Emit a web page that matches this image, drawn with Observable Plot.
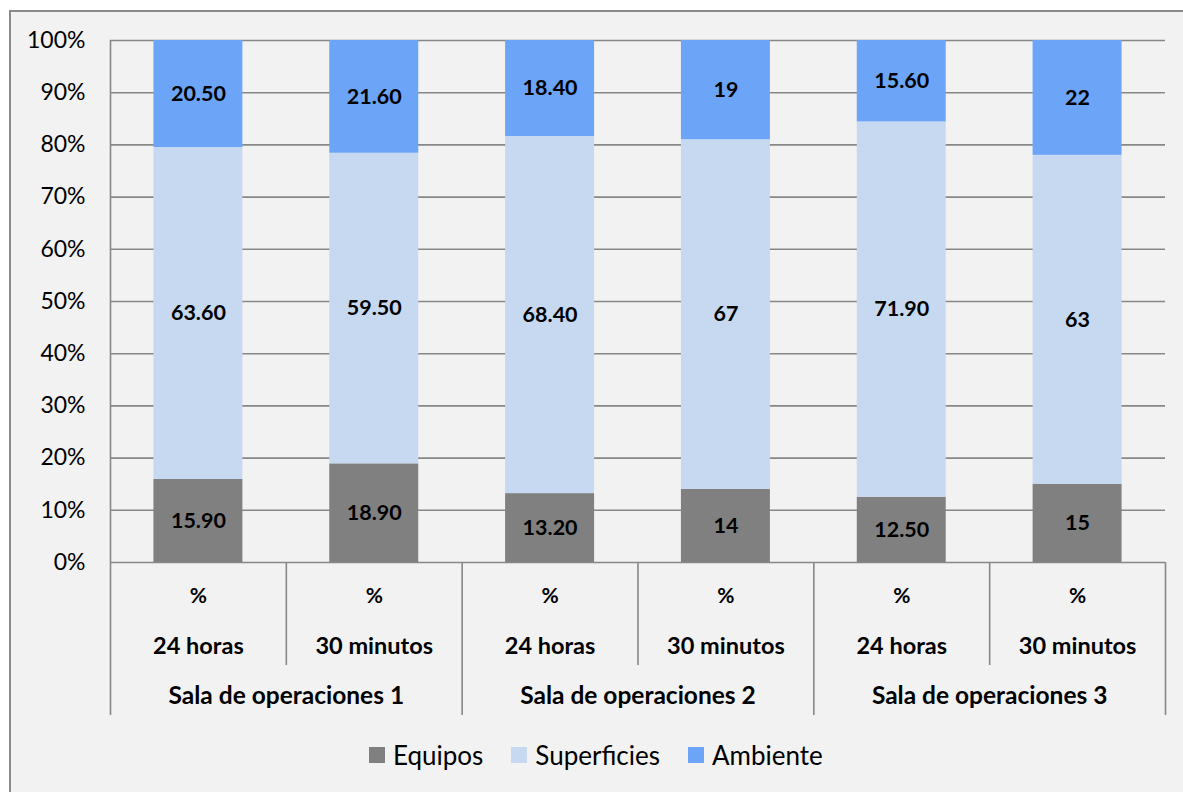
<!DOCTYPE html>
<html>
<head>
<meta charset="utf-8">
<script src="https://cdn.jsdelivr.net/npm/d3@7"></script>
<script src="https://cdn.jsdelivr.net/npm/@observablehq/plot@0.6"></script>
<style>
  html, body { margin: 0; padding: 0; background: #ffffff; overflow: hidden; }
  #frame {
    position: absolute; left: 9px; top: 10px;
    width: 1200px; height: 800px;
    background: #f2f2f2; border: 2px solid #8a8a8a;
    font-family: Lato, "Open Sans", sans-serif;
  }
  #chart svg { display: block; }
  #legend {
    height: 46px; display: flex; align-items: center;
    padding-left: 358px; font-size: 26px; color: #000;
  }
  #legend .item { display: flex; align-items: center; margin-right: 28px; }
  #legend .sw { width: 16px; height: 16px; margin-right: 8px; }
</style>
</head>
<body>
<div id="frame">
  <div id="chart"></div>
  <div id="legend"></div>
</div>
<script>
// ---- data ----
const groups = ["Sala de operaciones 1", "Sala de operaciones 2", "Sala de operaciones 3"];
const times = ["24 horas", "30 minutos", "24 horas", "30 minutos", "24 horas", "30 minutos"];
const unitLabel = ["%", "%", "%", "%", "%", "%"];
const series = ["Equipos", "Superficies", "Ambiente"];
const colors = ["#808080", "#c6d9f1", "#6ca5f7"];
const equipos = [15.9, 18.9, 13.2, 14, 12.5, 15];
const superficies = [63.6, 59.5, 68.4, 67, 71.9, 63];
const ambiente = [20.5, 21.6, 18.4, 19, 15.6, 22];
const yTicks = [0, 10, 20, 30, 40, 50, 60, 70, 80, 90, 100];

// ---- build stacked table ----
const seriesValues = [equipos, superficies, ambiente];
const rows = [];
times.forEach((t, i) => {
  const total = seriesValues.reduce((s, arr) => s + arr[i], 0);
  let acc = 0;
  seriesValues.forEach((arr, k) => {
    const v = arr[i];
    const y1 = acc / total * 100;
    acc += v;
    const y2 = acc / total * 100;
    rows.push({i, series: series[k], value: v, y1, y2, mid: (y1 + y2) / 2,
      label: Number.isInteger(v) ? String(v) : v.toFixed(2)});
  });
});
const cats = times.map((t, i) => ({i, time: t, unit: unitLabel[i]}));
const grp = groups.map((g, j) => ({j, name: g}));

const W = 1164, H = 720, ML = 99, MR = 10, MT = 28, MB = 170;
const n = times.length;
const slot = (W - ML - MR) / n;
const inset = slot * 0.247;
const grid = "#878787";

const chart = Plot.plot({
  width: W, height: H,
  marginLeft: ML, marginRight: MR, marginTop: MT, marginBottom: MB,
  style: {background: "transparent", fontFamily: "Lato, 'Open Sans', sans-serif", color: "#000"},
  x: {type: "linear", domain: [0, n], axis: null},
  y: {domain: [0, 100], axis: null},
  color: {domain: series, range: colors},
  marks: [
    Plot.ruleY(yTicks, {stroke: grid, strokeWidth: 1.6}),
    Plot.axisY(yTicks, {tickSize: 0, tickPadding: 25, fontSize: 23, tickFormat: d => d + "%", label: null, fill: "#000"}),
    Plot.rectY(rows, {x1: d => d.i, x2: d => d.i + 1, y1: "y1", y2: "y2", fill: "series",
      insetLeft: inset, insetRight: inset}),
    Plot.text(rows, {x: d => d.i + 0.5, y: "mid", text: "label", fontSize: 21.5, fontWeight: "bold", fill: "#000"}),
    // multi-level category axis separators
    Plot.ruleX([0], {stroke: grid, strokeWidth: 1.6, insetBottom: -153}),
    Plot.ruleX([2, 4, 6], {y1: 0, y2: 0, stroke: grid, strokeWidth: 1.6, insetBottom: -153}),
    Plot.ruleX([1, 3, 5], {y1: 0, y2: 0, stroke: grid, strokeWidth: 1.6, insetBottom: -103}),
    Plot.text(cats, {x: d => d.i + 0.5, y: 0, dy: 34, text: "unit", fontSize: 21, fontWeight: "bold", fill: "#000"}),
    Plot.text(cats, {x: d => d.i + 0.5, y: 0, dy: 84, text: "time", fontSize: 23.5, fontWeight: "bold", fill: "#000"}),
    Plot.text(grp, {x: d => d.j * 2 + 1, y: 0, dy: 134, text: "name", fontSize: 24.5, fontWeight: "bold", fill: "#000"})
  ]
});
document.getElementById("chart").appendChild(chart);

const legend = document.getElementById("legend");
series.forEach((s, k) => {
  const item = document.createElement("div");
  item.className = "item";
  const sw = document.createElement("span");
  sw.className = "sw";
  sw.style.background = colors[k];
  const tx = document.createElement("span");
  tx.textContent = s;
  item.appendChild(sw); item.appendChild(tx);
  legend.appendChild(item);
});
</script>
</body>
</html>
